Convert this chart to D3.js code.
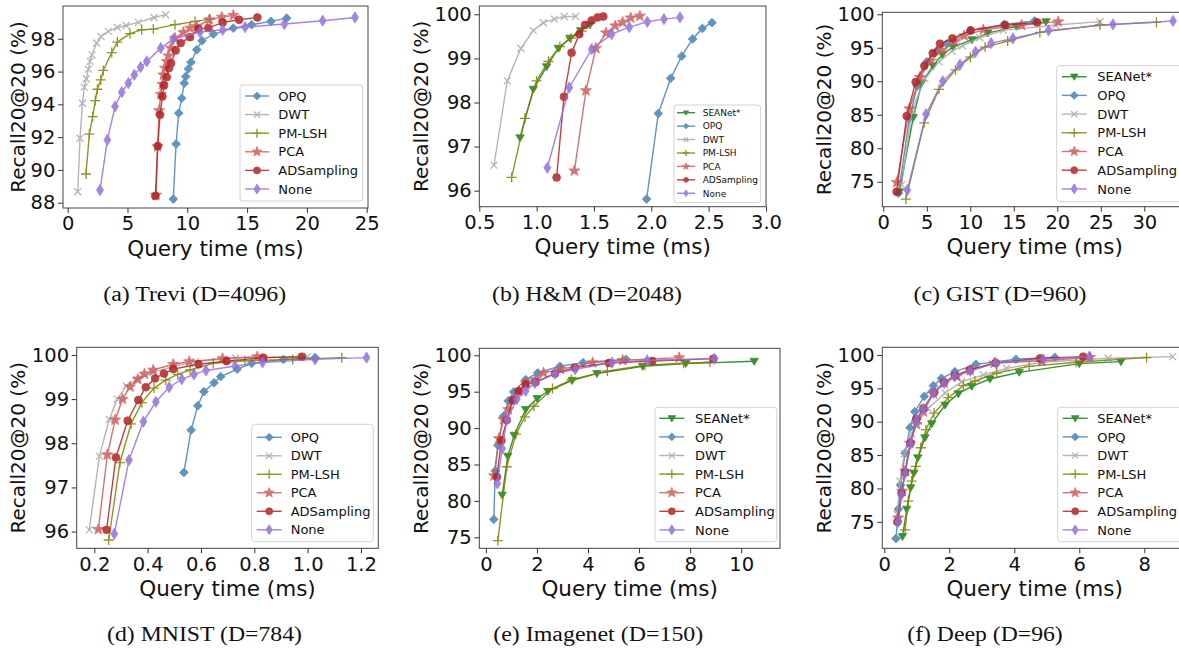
<!DOCTYPE html>
<html><head><meta charset="utf-8">
<script src="https://cdn.jsdelivr.net/npm/d3@7"></script>
<style>
html,body{margin:0;padding:0;background:#fff;}
svg{display:block;}
</style></head>
<body>
<svg id="chart" width="1179" height="649"></svg>
<script>
// ---------------- DATA ----------------
const methods = ["SEANet*","OPQ","DWT","PM-LSH","PCA","ADSampling","None"];
const methodColors = ["#138013","#4682b4","#a9a9a9","#808000","#cd5c5c","#b22222","#9370db"];
const methodMarkers = ["v","D","x","+","*","o","d"];
const captions = ["(a) Trevi (D=4096)","(b) H&M (D=2048)","(c) GIST (D=960)","(d) MNIST (D=784)","(e) Imagenet (D=150)","(f) Deep (D=96)"];
const xLabel = "Query time (ms)";
const yLabel = "Recall20@20 (%)";

// (a) Trevi  [query time ms, recall %]
const treviOPQ = [[8.83,88.22],[9.06,91.58],[9.28,93.46],[9.53,94.37],[9.75,95.29],[9.87,95.70],[10.09,96.17],[10.31,96.57],[10.79,97.33],[11.23,97.88],[12.18,98.29],[13.85,98.65],[15.38,98.86],[16.99,99.06],[18.31,99.26]];
const treviDWT = [[0.84,88.67],[1.03,91.93],[1.23,94.07],[1.39,95.05],[1.56,95.56],[1.73,96.15],[1.87,96.62],[2.03,97.02],[2.42,97.74],[2.79,98.14],[3.40,98.45],[4.15,98.69],[4.88,98.81],[5.91,99.0],[7.22,99.30],[8.19,99.47]];
const treviPMLSH = [[1.53,89.75],[1.81,92.18],[2.09,93.25],[2.31,94.23],[2.48,94.92],[2.76,95.49],[2.98,96.07],[3.68,97.16],[4.15,97.80],[5.21,98.31],[6.19,98.55],[7.16,98.59],[8.97,98.86],[10.65,99.06],[11.9,99.2]];
const treviPCA = [[7.39,88.47],[7.52,91.42],[7.64,93.62],[7.78,94.62],[7.92,95.23],[8.0,95.80],[8.14,96.21],[8.28,96.62],[8.42,96.96],[8.61,97.43],[8.97,98.04],[9.67,98.39],[10.23,98.65],[10.79,98.75],[11.84,99.16],[12.88,99.32],[13.85,99.43]];
const treviADS = [[7.33,88.41],[7.53,91.46],[7.72,93.36],[7.92,94.48],[8.05,95.15],[8.28,95.66],[8.47,96.21],[8.64,96.51],[9.03,97.29],[9.45,97.74],[10.23,98.10],[10.93,98.61],[11.76,98.65],[12.96,99.0],[14.33,99.16],[15.86,99.30]];
const treviNone = [[2.70,88.77],[3.32,91.83],[3.96,93.87],[4.52,94.74],[5.07,95.29],[5.57,95.80],[6.10,96.27],[6.61,96.62],[7.78,97.43],[8.83,97.98],[11.06,98.41],[12.96,98.55],[14.83,98.71],[18.12,98.90],[21.32,99.10],[24.02,99.30]];
const treviXTicks = [0,5,10,15,20,25];
const treviYTicks = [88,90,92,94,96,98];

// (b) H&M
const hmSEANet = [[0.855,97.20],[0.971,98.30],[1.087,98.81],[1.189,99.23],[1.291,99.46],[1.384,99.63],[1.465,99.76]];
const hmOPQ = [[1.959,95.81],[2.061,97.75],[2.169,98.55],[2.265,99.05],[2.36,99.44],[2.445,99.68],[2.529,99.81]];
const hmDWT = [[0.628,96.58],[0.744,98.49],[0.863,99.23],[0.971,99.63],[1.058,99.81],[1.154,99.89],[1.241,99.95],[1.34,99.95]];
const hmPMLSH = [[0.782,96.30],[0.898,97.64],[0.999,98.49],[1.102,98.93],[1.203,99.27],[1.30,99.46],[1.392,99.62]];
const hmPCA = [[1.329,96.45],[1.430,98.27],[1.517,99.23],[1.605,99.58],[1.686,99.74],[1.75,99.82],[1.82,99.92],[1.90,99.96]];
const hmADS = [[1.174,96.30],[1.238,98.13],[1.305,99.13],[1.372,99.55],[1.422,99.76],[1.48,99.86],[1.532,99.93],[1.581,99.95]];
const hmNone = [[1.093,96.52],[1.285,98.34],[1.48,99.21],[1.654,99.55],[1.808,99.71],[1.965,99.83],[2.11,99.89],[2.25,99.93]];
const hmXTicks = [0.5,1.0,1.5,2.0,2.5,3.0];
const hmYTicks = [96,97,98,99,100];

// (c) GIST
const gistSEANet = [[1.85,73.5],[3.45,84.6],[4.4,89.7],[5.7,92.3],[6.8,94.0],[8.0,95.1],[10.2,96.2],[12.0,97.2],[15.3,98.2],[18.7,98.9]];
const gistOPQ = [[1.75,73.3],[3.0,84.5],[3.9,89.3],[5.0,92.9],[6.1,94.5],[7.3,95.6],[10.0,97.6],[13.9,98.5],[17.4,99.0]];
const gistDWT = [[2.1,74.5],[3.3,85.7],[4.8,90.4],[6.4,92.9],[7.9,94.5],[9.1,95.3],[11.1,96.5],[13.8,97.6],[19.8,98.4],[24.9,98.9]];
const gistPMLSH = [[2.6,72.4],[4.7,83.8],[6.4,88.8],[8.3,91.7],[10.0,93.6],[11.7,95.1],[14.3,96.0],[18.0,97.3],[24.9,98.4],[31.4,98.8]];
const gistPCA = [[1.55,74.9],[3.0,85.9],[4.2,90.6],[5.4,93.0],[6.7,94.6],[8.2,95.9],[9.3,96.8],[11.5,97.7],[15.9,98.4],[20.1,98.9]];
const gistADS = [[1.53,73.5],[2.69,84.8],[3.72,89.9],[4.72,92.3],[5.68,94.2],[6.52,95.6],[7.94,96.4],[10.05,97.6],[14.0,98.4],[17.7,98.8]];
const gistNone = [[2.76,73.75],[4.91,85.1],[6.83,90.0],[8.82,92.5],[10.6,94.4],[12.4,95.7],[14.9,96.4],[19.0,97.6],[26.4,98.5],[33.3,99.0]];
const gistXTicks = [0,5,10,15,20,25,30];
const gistYTicks = [75,80,85,90,95,100];

// (d) MNIST
const mnistOPQ = [[0.536,97.34],[0.563,98.30],[0.588,98.85],[0.611,99.17],[0.649,99.37],[0.674,99.51],[0.736,99.68],[0.79,99.81],[0.909,99.90],[1.028,99.94]];
const mnistDWT = [[0.181,96.04],[0.219,97.71],[0.256,98.54],[0.286,99.0],[0.32,99.3],[0.36,99.45],[0.42,99.6],[0.5,99.75],[0.58,99.85],[0.73,99.93],[1.0,99.96]];
const mnistPMLSH = [[0.254,95.81],[0.296,97.56],[0.338,98.44],[0.378,98.92],[0.424,99.25],[0.468,99.43],[0.513,99.56],[0.559,99.66],[0.646,99.81],[0.765,99.87],[0.944,99.90],[1.128,99.94]];
const mnistPCA = [[0.215,96.05],[0.249,97.74],[0.278,98.53],[0.306,99.0],[0.334,99.28],[0.363,99.45],[0.388,99.57],[0.421,99.66],[0.496,99.79],[0.556,99.85],[0.681,99.92],[0.811,99.96]];
const mnistADS = [[0.246,96.04],[0.281,97.68],[0.325,98.51],[0.365,98.98],[0.393,99.27],[0.428,99.47],[0.461,99.58],[0.496,99.68],[0.591,99.79],[0.696,99.86],[0.834,99.94],[0.978,99.96]];
const mnistNone = [[0.275,95.95],[0.33,97.62],[0.384,98.49],[0.431,98.94],[0.481,99.27],[0.528,99.45],[0.574,99.56],[0.619,99.65],[0.728,99.75],[0.831,99.83],[1.028,99.90],[1.221,99.94]];
const mnistXTicks = [0.2,0.4,0.6,0.8,1.0,1.2];
const mnistYTicks = [96,97,98,99,100];

// (e) Imagenet
const imgSEANet = [[0.64,80.8],[0.86,86.15],[1.11,89.03],[1.56,92.55],[2.01,94.06],[2.43,95.06],[3.38,96.57],[4.35,97.49],[6.14,98.49],[7.83,98.86],[10.51,99.18]];
const imgOPQ = [[0.31,77.47],[0.37,84.14],[0.47,87.66],[0.69,91.64],[0.88,93.74],[1.09,94.97],[1.56,96.66],[2.03,97.58],[2.90,98.49],[3.81,98.99],[5.49,99.45]];
const imgPMLSH = [[0.47,74.54],[0.82,84.69],[1.18,89.17],[1.53,91.54],[1.88,93.0],[2.61,95.43],[3.35,96.66],[4.76,97.85],[6.23,98.63],[7.74,98.9],[8.78,99.05]];
const imgPCA = [[0.32,83.46],[0.51,88.57],[0.69,91.18],[0.88,92.55],[1.11,94.06],[1.30,95.11],[1.56,96.21],[1.94,96.66],[2.26,97.58],[2.93,98.08],[4.18,98.99],[5.36,99.31],[7.57,99.68]];
const imgADS = [[0.43,83.3],[0.61,88.3],[0.82,91.1],[1.05,93.8],[1.28,95.06],[1.56,96.0],[1.94,96.3],[2.71,97.5],[3.48,98.3],[4.82,98.95],[6.52,99.22],[8.91,99.54]];
const imgNone = [[0.45,82.4],[0.64,87.2],[0.83,91.18],[1.21,93.97],[1.56,95.11],[1.92,96.21],[2.71,97.49],[3.50,98.08],[4.94,98.99],[6.32,99.31],[8.95,99.54]];
const imgXTicks = [0,2,4,6,8,10];
const imgYTicks = [75,80,85,90,95,100];

// (f) Deep
const deepSEANet = [[0.56,72.8],[0.69,76.9],[0.81,80.1],[0.91,82.3],[1.03,84.6],[1.25,87.6],[1.46,89.7],[1.87,92.5],[2.28,94.2],[2.69,95.3],[3.25,96.4],[4.15,97.4],[6.0,98.7],[7.28,99.0]];
const deepOPQ = [[0.36,72.5],[0.43,76.9],[0.50,80.5],[0.64,85.3],[0.79,89.1],[0.94,91.5],[1.23,93.8],[1.51,95.4],[1.76,96.5],[2.17,97.5],[2.82,98.6],[4.05,99.35],[5.25,99.65]];
const deepDWT = [[0.40,76.1],[0.48,81.1],[0.62,85.2],[0.84,88.2],[1.05,90.1],[1.35,92.0],[1.87,94.3],[2.38,96.0],[3.05,97.0],[3.76,98.0],[4.86,98.9],[6.89,99.5],[8.87,99.75]];
const deepPMLSH = [[0.64,73.8],[0.74,78.1],[0.84,81.1],[0.97,83.3],[1.12,86.1],[1.28,88.8],[1.53,91.3],[1.97,93.6],[2.43,95.4],[2.79,96.1],[3.46,97.3],[4.46,98.3],[5.90,98.9],[8.07,99.6]];
const deepPCA = [[0.43,75.6],[0.55,79.6],[0.64,82.6],[0.79,86.8],[0.99,89.6],[1.20,91.5],[1.51,94.2],[1.84,95.8],[2.23,96.8],[2.64,97.7],[3.38,98.8],[4.84,99.1],[6.33,99.65]];
const deepADS = [[0.40,75.0],[0.53,79.3],[0.64,82.4],[0.81,86.8],[0.99,90.4],[1.20,92.0],[1.53,94.4],[1.84,95.9],[2.17,96.9],[2.64,97.8],[3.43,98.8],[4.79,99.5],[6.12,99.75]];
const deepNone = [[0.43,75.0],[0.53,79.1],[0.64,82.3],[0.81,86.7],[0.99,90.2],[1.20,91.9],[1.51,94.3],[1.84,95.8],[2.17,96.8],[2.64,97.6],[3.43,98.8],[4.89,99.35],[6.31,99.75]];
const deepXTicks = [0,2,4,6,8];
const deepYTicks = [75,80,85,90,95,100];

// ---------------- LAYOUT ----------------
const layouts = [
  {left:63, right:368, top:6, bottom:208, xdom:[-0.393,25.109], ydom:[87.676,100.0], fmt:"d", ylabOff:38,
   cap:{cx:194.7, y:301, w:183},
   leg:{x0:240, x1:362.7, y0:85, y1:201, row0:96, dy:18.6, h0:245, h1:269, tx:278.3, fs:13, mk:0.9}},
  {left:479.3, right:766, top:6, bottom:206.7, xdom:[0.5,3.0], ydom:[95.637,100.188], fmt:".1f", ylabOff:51.3,
   cap:{cx:587, y:301, w:190},
   leg:{x0:674, x1:760.7, y0:105, y1:202.7, row0:112.7, dy:13.43, h0:677, h1:695, tx:702.7, fs:9, mk:0.62}},
  {left:882.3, right:1187, top:12.3, bottom:206.7, xdom:[-0.115,34.91], ydom:[71.27,100.3], fmt:"d", ylabOff:51.3,
   cap:{cx:1000, y:301, w:173},
   leg:{x0:1056.7, x1:1195, y0:65.7, y1:201.7, row0:76.7, dy:18.7, h0:1061.7, h1:1086.7, tx:1097.3, fs:13, mk:0.9}},
  {left:76.7, right:378.3, top:347.3, bottom:548.3, xdom:[0.134,1.265], ydom:[95.622,100.174], fmt:".1f", ylabOff:51.7,
   cap:{cx:204.5, y:641, w:195},
   leg:{x0:251.7, x1:373.3, y0:424.3, y1:541.7, row0:437.3, dy:18.5, h0:256.7, h1:281.7, tx:290.7, fs:13, mk:0.9}},
  {left:479.3, right:780, top:348.3, bottom:548.3, xdom:[-0.257,11.52], ydom:[73.49,100.96], fmt:"d", ylabOff:51.3,
   cap:{cx:598.3, y:641, w:210},
   leg:{x0:655, x1:776.7, y0:407.3, y1:541.7, row0:418.3, dy:18.6, h0:659.3, h1:684.3, tx:695, fs:13, mk:0.9}},
  {left:882.3, right:1187, top:347.3, bottom:548.3, xdom:[-0.0615,9.314], ydom:[71.03,101.15], fmt:"d", ylabOff:51.3,
   cap:{cx:985, y:641, w:155.5},
   leg:{x0:1057.7, x1:1195, y0:407.3, y1:541.7, row0:418.3, dy:18.6, h0:1062.7, h1:1087.7, tx:1097.3, fs:13, mk:0.9}}
];

const panels = [
  {series:[null,treviOPQ,treviDWT,treviPMLSH,treviPCA,treviADS,treviNone], xt:treviXTicks, yt:treviYTicks},
  {series:[hmSEANet,hmOPQ,hmDWT,hmPMLSH,hmPCA,hmADS,hmNone], xt:hmXTicks, yt:hmYTicks},
  {series:[gistSEANet,gistOPQ,gistDWT,gistPMLSH,gistPCA,gistADS,gistNone], xt:gistXTicks, yt:gistYTicks},
  {series:[null,mnistOPQ,mnistDWT,mnistPMLSH,mnistPCA,mnistADS,mnistNone], xt:mnistXTicks, yt:mnistYTicks},
  {series:[imgSEANet,imgOPQ,null,imgPMLSH,imgPCA,imgADS,imgNone], xt:imgXTicks, yt:imgYTicks, legendAll:true},
  {series:[deepSEANet,deepOPQ,deepDWT,deepPMLSH,deepPCA,deepADS,deepNone], xt:deepXTicks, yt:deepYTicks}
];

// ---------------- DRAWING ----------------
function markerPath(t, k) {
  switch (t) {
    case "v": { const a = 4.2*k; return `M${-a},${-a*0.7}L${a},${-a*0.7}L0,${a*0.95}Z`; }
    case "D": { const a = 4.4*k; return `M0,${-a}L${a},0L0,${a}L${-a},0Z`; }
    case "x": { const a = 3.5*k; return `M${-a},${-a}L${a},${a}M${-a},${a}L${a},${-a}`; }
    case "+": { const a = 5*k; return `M${-a},0L${a},0M0,${-a}L0,${a}`; }
    case "*": {
      let p = "";
      for (let i = 0; i < 10; i++) {
        const r = (i % 2 === 0 ? 5.8 : 2.4) * k;
        const ang = -Math.PI/2 + i*Math.PI/5;
        p += (i === 0 ? "M" : "L") + (r*Math.cos(ang)).toFixed(2) + "," + (r*Math.sin(ang)).toFixed(2);
      }
      return p + "Z";
    }
    case "o": { const r = 3.9*k; return `M${r},0A${r},${r} 0 1,1 ${-r},0A${r},${r} 0 1,1 ${r},0Z`; }
    case "d": { const a = 5.6*k; return `M0,${-a}L${a*0.62},0L0,${a}L${-a*0.62},0Z`; }
  }
}
function styleMarker(sel, t, color) {
  if (t === "x" || t === "+") {
    sel.attr("fill", "none").attr("stroke", color).attr("stroke-width", 1.3);
  } else {
    sel.attr("fill", color).attr("stroke", color).attr("stroke-width", 0.8);
  }
}

const svg = d3.select("#chart");
const SANS = "'DejaVu Sans', Verdana, sans-serif";
const SERIF = "'Liberation Serif', 'Times New Roman', serif";

panels.forEach((p, pi) => {
  const L = layouts[pi];
  const g = svg.append("g");
  const x = d3.scaleLinear().domain(L.xdom).range([L.left, L.right]);
  const y = d3.scaleLinear().domain(L.ydom).range([L.bottom, L.top]);

  const clipId = "clip" + pi;
  g.append("clipPath").attr("id", clipId).append("rect")
    .attr("x", L.left).attr("y", L.top).attr("width", L.right - L.left).attr("height", L.bottom - L.top);

  const plot = g.append("g").attr("clip-path", `url(#${clipId})`);
  const line = d3.line().x(d => x(d[0])).y(d => y(d[1]));

  p.series.forEach((data, mi) => {
    if (!data) return;
    const color = methodColors[mi], mk = methodMarkers[mi];
    const sg = plot.append("g").attr("opacity", 0.85);
    sg.append("path").datum(data).attr("d", line)
      .attr("fill", "none").attr("stroke", color).attr("stroke-width", 1.4);
    sg.selectAll("path.mk").data(data).join("path").attr("class", "mk")
      .attr("transform", d => `translate(${x(d[0])},${y(d[1])})`)
      .attr("d", markerPath(mk, 1))
      .call(styleMarker, mk, color);
  });

  // spines
  g.append("rect").attr("x", L.left).attr("y", L.top)
    .attr("width", L.right - L.left).attr("height", L.bottom - L.top)
    .attr("fill", "none").attr("stroke", "#444").attr("stroke-width", 1);

  const fmt = d3.format(L.fmt);
  const xa = g.append("g").attr("transform", `translate(0,${L.bottom})`)
    .call(d3.axisBottom(x).tickValues(p.xt).tickSize(5).tickPadding(3.5).tickFormat(fmt));
  const ya = g.append("g").attr("transform", `translate(${L.left},0)`)
    .call(d3.axisLeft(y).tickValues(p.yt).tickSize(5).tickPadding(2.6).tickFormat(d3.format("d")));
  [xa, ya].forEach(a => {
    a.select(".domain").remove();
    a.attr("font-family", SANS).attr("font-size", 19.5);
    a.selectAll("line").attr("stroke", "#333");
    a.selectAll("text").attr("fill", "#111");
  });

  // axis labels
  g.append("text").attr("x", (L.left + Math.min(L.right, 1179 + (L.right - 1179))) / 2).attr("y", L.bottom + 47.5)
    .attr("text-anchor", "middle").attr("font-family", SANS).attr("font-size", 21.5).attr("fill", "#111")
    .text(xLabel);
  g.append("text")
    .attr("transform", `translate(${L.left - L.ylabOff},${(L.top + L.bottom) / 2}) rotate(-90)`)
    .attr("text-anchor", "middle").attr("font-family", SANS).attr("font-size", 20).attr("fill", "#111")
    .text(yLabel);

  // legend
  const G = L.leg;
  const lg = g.append("g");
  lg.append("rect").attr("x", G.x0).attr("y", G.y0).attr("width", G.x1 - G.x0).attr("height", G.y1 - G.y0)
    .attr("rx", 3).attr("fill", "#fff").attr("fill-opacity", 0.85).attr("stroke", "#d3d3d3").attr("stroke-width", 1);
  const entries = methods.map((m, i) => i).filter(i => p.series[i] || p.legendAll);
  entries.forEach((mi, k) => {
    const yy = G.row0 + k * G.dy;
    const color = methodColors[mi], mk = methodMarkers[mi];
    const eg = lg.append("g").attr("opacity", 0.85);
    eg.append("line").attr("x1", G.h0).attr("x2", G.h1).attr("y1", yy).attr("y2", yy)
      .attr("stroke", color).attr("stroke-width", 1.4);
    eg.append("path").attr("transform", `translate(${(G.h0 + G.h1) / 2},${yy})`)
      .attr("d", markerPath(mk, G.mk)).call(styleMarker, mk, color);
    lg.append("text").attr("x", G.tx).attr("y", yy).attr("dy", "0.36em")
      .attr("font-family", SANS).attr("font-size", G.fs).attr("fill", "#111").text(methods[mi]);
  });

  // caption
  const cap = svg.append("text").attr("x", L.cap.cx).attr("y", L.cap.y)
    .attr("text-anchor", "middle").attr("font-family", SERIF).attr("font-size", 20).attr("fill", "#111")
    .text(captions[pi]);
  cap.attr("textLength", L.cap.w).attr("lengthAdjust", "spacingAndGlyphs");
});
</script>
</body></html>
